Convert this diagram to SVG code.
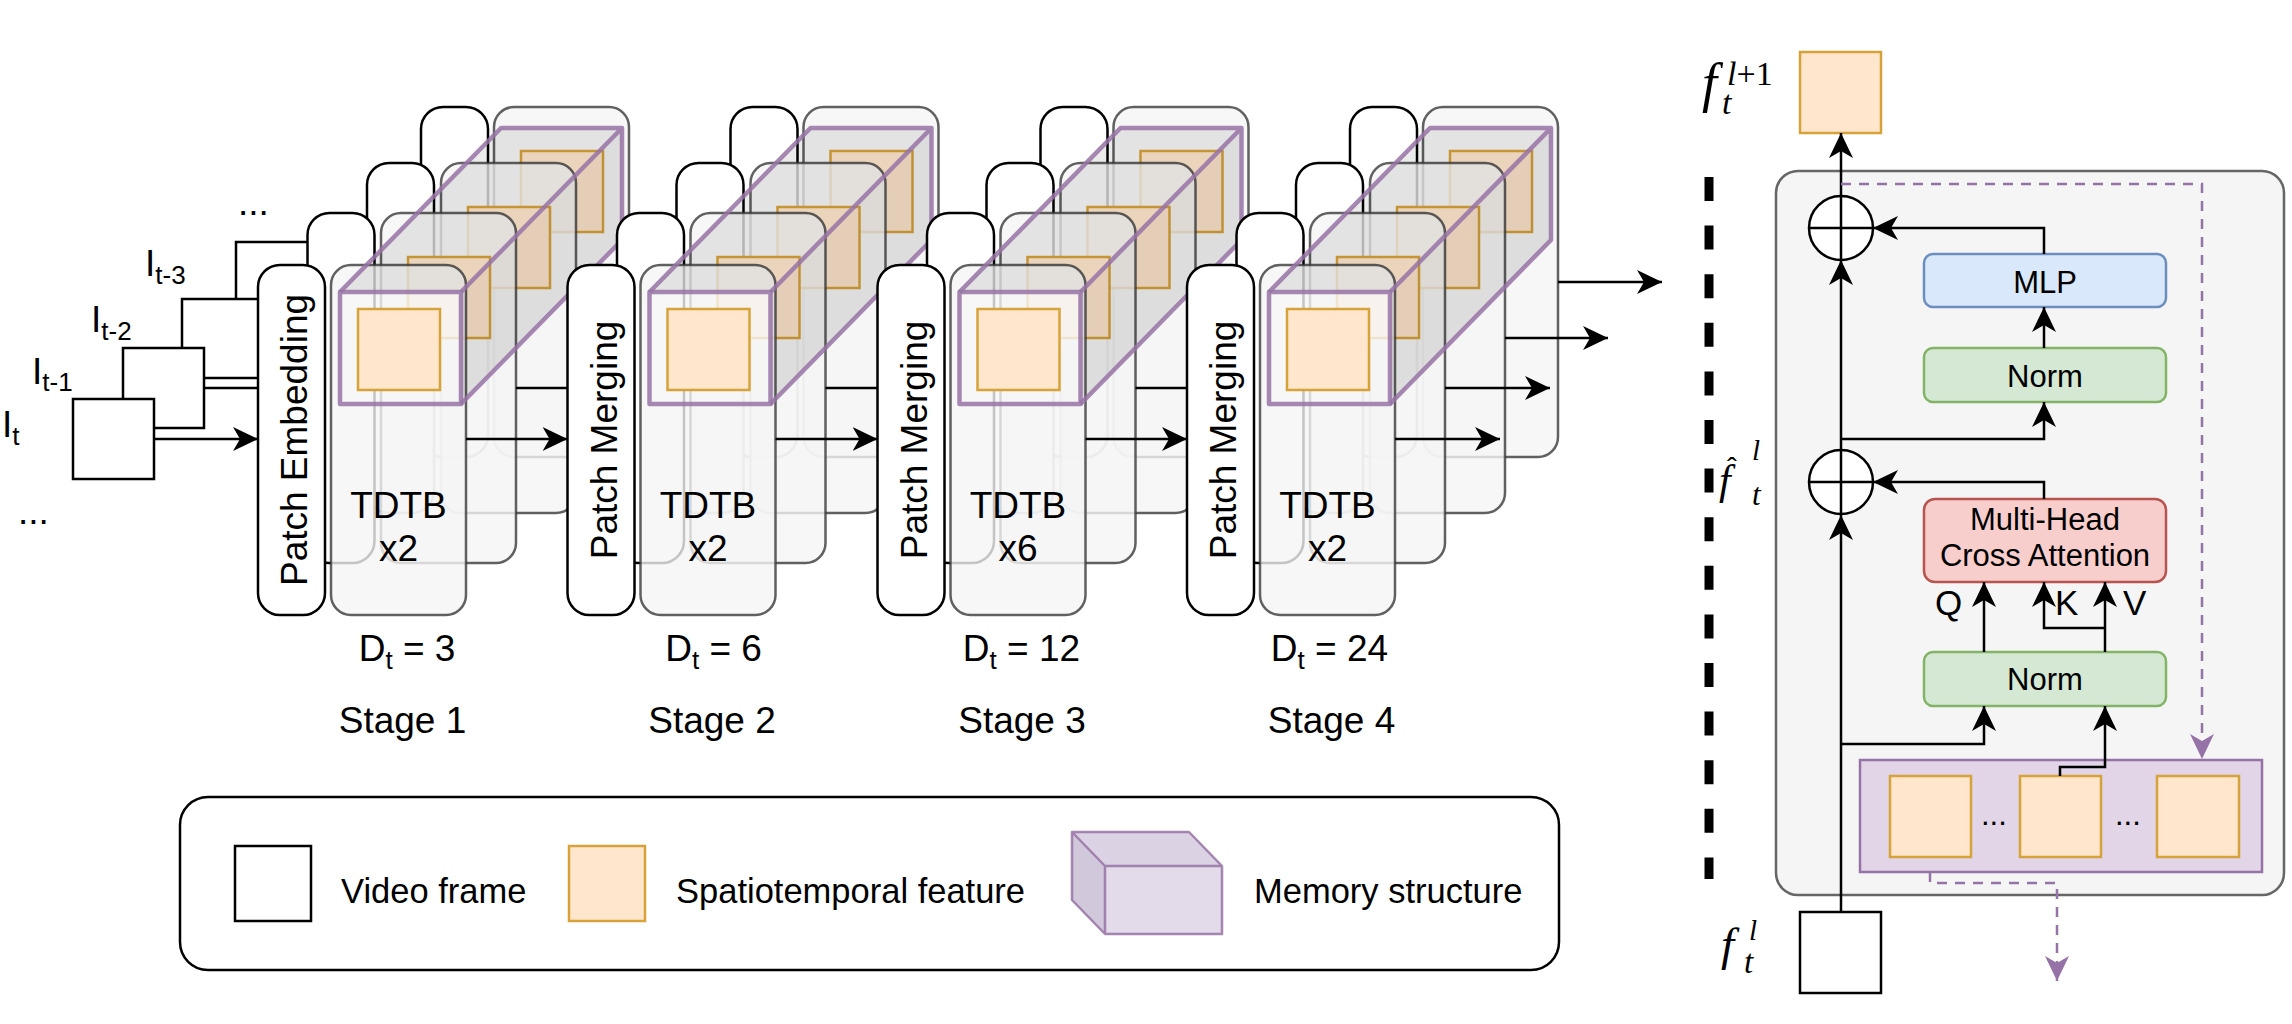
<svg xmlns="http://www.w3.org/2000/svg" width="2292" height="1024" viewBox="0 0 2292 1024">
<style>
.fr{fill:#fff;stroke:#000;stroke-width:2.5}
.pb{fill:#fff;stroke:#000;stroke-width:2.5}
.tb{fill:#f5f5f5;fill-opacity:0.8;stroke:#3a3a3a;stroke-opacity:0.8;stroke-width:2.5}
.sq{fill:#ffe6cc;stroke:#d6a23a;stroke-width:2.5}
.ctop{fill:#000;fill-opacity:0.08}
.cside{fill:#000;fill-opacity:0.1}
.cline{fill:none;stroke:#9673a6;stroke-opacity:0.85;stroke-width:4.5;stroke-linejoin:round}
.t{font-family:"Liberation Sans",Arial,sans-serif;fill:#000}
.s37{font-size:37px}
.s35{font-size:35px}
.s31{font-size:31px}
.s34{font-size:34.5px}
.m{font-family:"Liberation Serif","Times New Roman",serif;font-style:italic;fill:#000}
.conn{fill:none;stroke:#000;stroke-width:2.5}
.pd{fill:none;stroke:#9673a6;stroke-width:2.5;stroke-dasharray:10 8}
.box{stroke-width:2.5}
</style>
<defs>
<marker id="ah" viewBox="0 0 25 24" refX="25" refY="12" markerWidth="25" markerHeight="24" markerUnits="userSpaceOnUse" orient="auto"><path d="M0,0 L25,12 L0,24 L7,12 z" fill="#000"/></marker>
<marker id="ahp" viewBox="0 0 25 24" refX="25" refY="12" markerWidth="25" markerHeight="24" markerUnits="userSpaceOnUse" orient="auto"><path d="M0,0 L25,12 L0,24 L7,12 z" fill="#9673a6"/></marker>
<g id="stack">
<rect class="pb" x="163" y="107" width="67" height="350" rx="22"/>
<rect class="tb" x="236" y="107" width="135" height="350" rx="20"/>
<rect class="sq" x="263" y="151" width="82" height="81"/>
<rect class="pb" x="109" y="163" width="67" height="350" rx="22"/>
<rect class="tb" x="183" y="163" width="135" height="350" rx="20"/>
<rect class="sq" x="210" y="207" width="82" height="81"/>
<rect class="pb" x="49.5" y="213" width="67" height="350" rx="22"/>
<rect class="tb" x="123" y="213" width="135" height="350" rx="20"/>
<rect class="sq" x="150" y="257" width="82" height="81"/>
<rect class="pb" x="0" y="265" width="67" height="350" rx="22"/>
<rect class="tb" x="73" y="265" width="135" height="350" rx="20"/>
<rect class="sq" x="100" y="309" width="82" height="81"/>
<polygon class="ctop" points="82,292 203,292 364,128 243,128"/>
<polygon class="cside" points="203,292 364,128 364,240 203,404"/>
<rect class="cline" x="82" y="292" width="121" height="112"/>
<path class="cline" d="M82,292 L243,128 L364,128 L364,240 L203,404 M203,292 L364,128"/>
</g>
</defs>
<rect width="2292" height="1024" fill="#fff"/>

<g id="frames">
<g id="frame-t-3"><rect class="fr" x="236" y="242" width="81" height="79"/></g>
<g id="frame-t-2"><rect class="fr" x="182" y="299" width="81" height="79"/></g>
<g id="frame-t-1"><rect class="fr" x="123" y="348" width="81" height="80"/></g>
<g id="frame-t"><rect class="fr" x="73" y="399" width="81" height="80"/></g>
<text class="t s37" x="145" y="276">I<tspan font-size="26" dy="8">t-3</tspan></text>
<text class="t s37" x="91" y="332">I<tspan font-size="26" dy="8">t-2</tspan></text>
<text class="t s37" x="32" y="384">I<tspan font-size="26" dy="7">t-1</tspan></text>
<text class="t s37" x="2" y="437">I<tspan font-size="26" dy="8">t</tspan></text>
<text class="t s37" x="238" y="215">...</text>
<text class="t s37" x="18" y="524">...</text>
</g>

<g id="stage1" transform="translate(258,0)">
<use href="#stack"/>
<text class="t s37" transform="translate(33.5,440) rotate(-90)" x="0" y="15.5" text-anchor="middle">Patch Embedding</text>
<text class="t s37" x="140.5" y="518" text-anchor="middle">TDTB</text>
<text class="t s37" x="140.5" y="561" text-anchor="middle">x2</text>
<text class="t s37" x="149" y="661" text-anchor="middle">D<tspan font-size="26" dy="8">t</tspan><tspan dy="-8"> = 3</tspan></text>
<text class="t s37" x="144.5" y="733" text-anchor="middle">Stage 1</text>
</g>

<g id="stage2" transform="translate(567.5,0)">
<use href="#stack"/>
<text class="t s37" transform="translate(33.5,440) rotate(-90)" x="0" y="15.5" text-anchor="middle">Patch Merging</text>
<text class="t s37" x="140.5" y="518" text-anchor="middle">TDTB</text>
<text class="t s37" x="140.5" y="561" text-anchor="middle">x2</text>
<text class="t s37" x="146" y="661" text-anchor="middle">D<tspan font-size="26" dy="8">t</tspan><tspan dy="-8"> = 6</tspan></text>
<text class="t s37" x="144.5" y="733" text-anchor="middle">Stage 2</text>
</g>

<g id="stage3" transform="translate(877.5,0)">
<use href="#stack"/>
<text class="t s37" transform="translate(33.5,440) rotate(-90)" x="0" y="15.5" text-anchor="middle">Patch Merging</text>
<text class="t s37" x="140.5" y="518" text-anchor="middle">TDTB</text>
<text class="t s37" x="140.5" y="561" text-anchor="middle">x6</text>
<text class="t s37" x="144" y="661" text-anchor="middle">D<tspan font-size="26" dy="8">t</tspan><tspan dy="-8"> = 12</tspan></text>
<text class="t s37" x="144.5" y="733" text-anchor="middle">Stage 3</text>
</g>

<g id="stage4" transform="translate(1187,0)">
<use href="#stack"/>
<text class="t s37" transform="translate(33.5,440) rotate(-90)" x="0" y="15.5" text-anchor="middle">Patch Merging</text>
<text class="t s37" x="140.5" y="518" text-anchor="middle">TDTB</text>
<text class="t s37" x="140.5" y="561" text-anchor="middle">x2</text>
<text class="t s37" x="142.5" y="661" text-anchor="middle">D<tspan font-size="26" dy="8">t</tspan><tspan dy="-8"> = 24</tspan></text>
<text class="t s37" x="144.5" y="733" text-anchor="middle">Stage 4</text>
</g>

<g id="block">
<rect x="1776" y="171" width="508" height="724" rx="22" fill="#f5f5f5" stroke="#666" stroke-width="2.5"/>
</g>
<g id="out-feature"><rect class="sq" x="1800" y="52" width="81" height="81" stroke-width="3"/></g>
<g id="in-feature"><rect class="fr" x="1800" y="912" width="81" height="81"/></g>
<g id="add-top"><circle cx="1841" cy="228" r="32" fill="#fff" stroke="#000" stroke-width="2.5"/><path class="conn" d="M1809,228 H1873 M1841,196 V260"/></g>
<g id="add-bottom"><circle cx="1841" cy="482" r="32" fill="#fff" stroke="#000" stroke-width="2.5"/><path class="conn" d="M1809,482 H1873 M1841,450 V514"/></g>
<g id="mlp"><rect class="box" x="1924" y="254" width="242" height="53" rx="9" fill="#dae8fc" stroke="#6c8ebf"/><text class="t s31" x="2045" y="293" text-anchor="middle">MLP</text></g>
<g id="norm-top"><rect class="box" x="1924" y="348" width="242" height="54" rx="9" fill="#d5e8d4" stroke="#82b366"/><text class="t s31" x="2045" y="387" text-anchor="middle">Norm</text></g>
<g id="mhca"><rect class="box" x="1924" y="499" width="242" height="83" rx="11" fill="#f8cecc" stroke="#b85450"/><text class="t s31" x="2045" y="530" text-anchor="middle">Multi-Head</text><text class="t s31" x="2045" y="566" text-anchor="middle">Cross Attention</text></g>
<g id="norm-bottom"><rect class="box" x="1924" y="652" width="242" height="54" rx="9" fill="#d5e8d4" stroke="#82b366"/><text class="t s31" x="2045" y="690" text-anchor="middle">Norm</text></g>
<g id="memory"><rect class="box" x="1860" y="760" width="402" height="112" fill="#e1d5e7" stroke="#9673a6"/>
<rect class="sq" x="1890" y="776" width="81" height="81"/>
<rect class="sq" x="2020" y="776" width="81" height="81"/>
<rect class="sq" x="2157" y="776" width="82" height="81"/>
<text class="t s31" x="1981" y="825">...</text>
<text class="t s31" x="2115" y="825">...</text>
</g>
<g id="qkv">
<text class="t s35" x="1935" y="615">Q</text>
<text class="t s35" x="2055" y="615">K</text>
<text class="t s35" x="2123" y="615">V</text>
</g>
<g id="math-labels">
<text class="m" x="1702" y="101" font-size="54">f</text>
<text class="m" x="1727" y="85" font-size="34">l<tspan font-style="normal">+1</tspan></text>
<text class="m" x="1722" y="114" font-size="34">t</text>
<text class="m" x="1719" y="494" font-size="42">f</text>
<text class="t" x="1727" y="478" font-size="30">ˆ</text>
<text class="m" x="1752" y="460" font-size="29">l</text>
<text class="m" x="1752" y="505" font-size="31">t</text>
<text class="m" x="1721" y="960" font-size="47">f</text>
<text class="m" x="1749" y="940" font-size="29">l</text>
<text class="m" x="1744" y="973" font-size="33">t</text>
</g>

<g id="legend">
<rect x="180" y="797" width="1379" height="173" rx="28" fill="#fff" stroke="#000" stroke-width="2.5"/>
<rect class="fr" x="235" y="846" width="76" height="75"/>
<text class="t s34" x="341" y="903">Video frame</text>
<rect class="sq" x="569" y="846" width="76" height="75"/>
<text class="t s34" x="676" y="903">Spatiotemporal feature</text>
<polygon points="1072,832 1189,832 1222,866 1105,866" fill="#dbd2e3"/>
<polygon points="1072,832 1105,866 1105,934 1072,900" fill="#d2c8db"/>
<rect x="1105" y="866" width="117" height="68" fill="#e3dbea"/>
<path d="M1072,832 H1189 L1222,866 V934 H1105 L1072,900 Z M1072,832 L1105,866 H1222 M1105,866 V934" fill="none" stroke="#9673a6" stroke-opacity="0.85" stroke-width="2.5" stroke-linejoin="round"/>
<text class="t s34" x="1254" y="903">Memory structure</text>
</g>

<g id="connectors">
<path class="conn" d="M154,439 H258" marker-end="url(#ah)"/>
<path class="conn" d="M204,388 H258"/>
<path class="conn" d="M466,439 H567.5" marker-end="url(#ah)"/>
<path class="conn" d="M516,388 H567.5"/>
<path class="conn" d="M775.5,439 H877.5" marker-end="url(#ah)"/>
<path class="conn" d="M825.5,388 H877.5"/>
<path class="conn" d="M1085.5,439 H1187" marker-end="url(#ah)"/>
<path class="conn" d="M1135.5,388 H1187"/>
<path class="conn" d="M1395,439 H1500" marker-end="url(#ah)"/>
<path class="conn" d="M1445,388 H1550" marker-end="url(#ah)"/>
<path class="conn" d="M1505,338 H1608" marker-end="url(#ah)"/>
<path class="conn" d="M1558,282 H1662" marker-end="url(#ah)"/>
<path d="M1709,177 V879" fill="none" stroke="#000" stroke-width="9" stroke-dasharray="24 24.6"/>
<path class="conn" d="M1841,912 V515" marker-end="url(#ah)"/>
<path class="conn" d="M1841,450 V260" marker-end="url(#ah)"/>
<path class="conn" d="M1841,196 V133" marker-end="url(#ah)"/>
<path class="conn" d="M2044,254 V228 H1873" marker-end="url(#ah)"/>
<path class="conn" d="M2044,348 V307" marker-end="url(#ah)"/>
<path class="conn" d="M1841,439 H2044 V402" marker-end="url(#ah)"/>
<path class="conn" d="M2044,499 V482 H1873" marker-end="url(#ah)"/>
<path class="conn" d="M1984,652 V582" marker-end="url(#ah)"/>
<path class="conn" d="M2105,652 V582" marker-end="url(#ah)"/>
<path class="conn" d="M2105,628 H2044 V582" marker-end="url(#ah)"/>
<path class="conn" d="M1841,744 H1984 V706" marker-end="url(#ah)"/>
<path class="conn" d="M2060,776 V767 H2105 V706" marker-end="url(#ah)"/>
<path class="pd" d="M1841,184 H2202 V759" marker-end="url(#ahp)"/>
<path class="pd" d="M1930,872 V883 H2057 V981" marker-end="url(#ahp)"/>
</g>
</svg>
